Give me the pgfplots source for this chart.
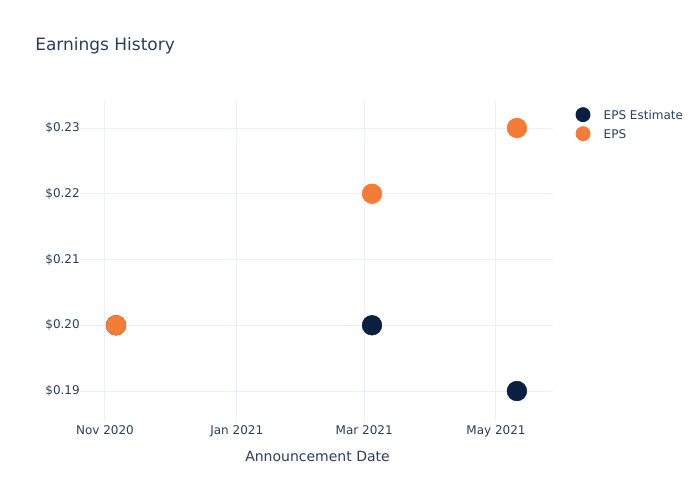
\documentclass[border=0pt]{standalone}
\usepackage{pgfplots}
\pgfplotsset{compat=1.18}
\usepackage{fontspec}
\setmainfont{DejaVu Sans}
\definecolor{txt}{HTML}{2A3F5F}
\definecolor{navy}{HTML}{0B1F41}
\definecolor{orng}{HTML}{F47C36}
\definecolor{grd}{HTML}{EBF0F8}
\begin{document}
\begin{tikzpicture}
\fill[white] (0pt,0pt) rectangle (525pt,375pt);
\begin{axis}[
  at={(60pt,59.25pt)}, anchor=south west,
  scale only axis, width=354.75pt, height=240.75pt,
  xmin=-11.57, xmax=207.4, ymin=0.18544, ymax=0.23426,
  axis line style={draw=none},
  tick style={draw=none},
  xtick={0,61,120,181},
  xticklabels={Nov 2020,Jan 2021,Mar 2021,May 2021},
  ytick={0.19,0.20,0.21,0.22,0.23},
  yticklabels={\$0.19,\$0.20,\$0.21,\$0.22,\$0.23},
  grid=major, major grid style={grd, line width=0.75pt},
  ticklabel style={font=\fontsize{9}{10}\selectfont, text=txt},
  xticklabel style={yshift=0pt},
  yticklabel style={xshift=0pt, anchor=east, inner sep=0pt},
  xlabel={Announcement Date},
  xlabel style={font=\fontsize{10.5}{12}\selectfont, text=txt, yshift=-3.6pt, xshift=0.75pt},
  clip=false,
]
\addplot[only marks, mark=*, mark size=7.4pt, draw=navy, fill=navy] coordinates {(5.1,0.20) (123.6,0.20) (190.7,0.19)};
\addplot[only marks, mark=*, mark size=7.4pt, draw=orng, fill=orng] coordinates {(5.1,0.20) (123.6,0.22) (190.7,0.23)};
\end{axis}
\node[anchor=west, inner sep=0pt, text=txt, font=\fontsize{12.75}{14}\selectfont] at (26.25pt,340.5pt) {Earnings History};
\fill[navy] (437.25pt,289pt) circle (5.6pt);
\fill[orng] (437.25pt,274.75pt) circle (5.6pt);
\node[anchor=west, text=txt, font=\fontsize{9}{10}\selectfont] at (449.25pt,289pt) {EPS Estimate};
\node[anchor=west, text=txt, font=\fontsize{9}{10}\selectfont] at (449.25pt,274.75pt) {EPS};
\pgfresetboundingbox
\path (0pt,0pt) rectangle (525pt,375pt);
\end{tikzpicture}
\end{document}
